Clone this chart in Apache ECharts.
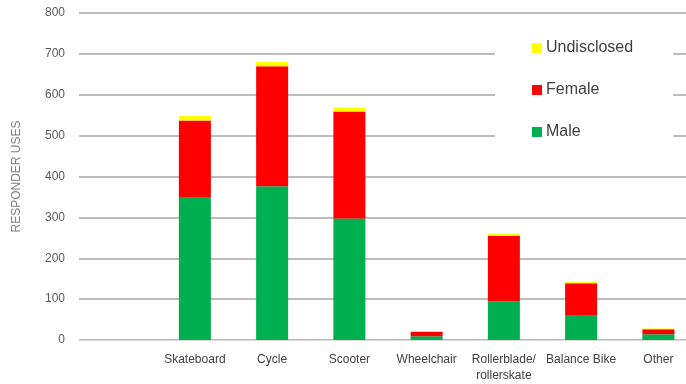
<!DOCTYPE html>
<html>
<head>
<meta charset="utf-8">
<script src="https://cdn.jsdelivr.net/npm/echarts@6/dist/echarts.min.js"></script>
<style>
html,body{margin:0;padding:0;background:#fff;overflow:hidden;width:686px;height:384px;}
#c{width:697px;height:384px;}
</style>
</head>
<body>
<div id="c"></div>
<script>
var categories = ['', 'Skateboard', 'Cycle', 'Scooter', 'Wheelchair', 'Rollerblade/\nrollerskate', 'Balance Bike', 'Other'];
var male = [null, 350, 376, 297, 9, 94, 61, 14];
var female = [null, 187, 294, 262, 11, 161, 78, 12];
var undisclosed = [null, 11, 10, 10, 1, 5, 3, 2];
var yTicks = [0, 800, 100];

var chart = echarts.init(document.getElementById('c'));
var font = '"Liberation Sans", Arial, sans-serif';
chart.setOption({
  animation: false,
  backgroundColor: '#ffffff',
  textStyle: { fontFamily: font },
  grid: { left: 79, top: 13, right: 0, bottom: 44, containLabel: false },
  legend: {
    data: ['Undisclosed', 'Female', 'Male'],
    orient: 'vertical',
    left: 495,
    top: 21,
    padding: [19, 40, 31, 37],
    itemGap: 26,
    itemWidth: 10,
    itemHeight: 10,
    itemStyle: { borderWidth: 0 },
    icon: 'rect',
    backgroundColor: '#ffffff',
    textStyle: { fontFamily: font, fontSize: 16, color: '#404040', padding: [0, 0, 0, -1] }
  },
  xAxis: {
    type: 'category',
    data: categories,
    axisLine: { lineStyle: { color: '#d9d9d9', width: 1 } },
    axisTick: { show: false },
    axisLabel: { interval: 0, margin: 12, fontSize: 12, color: '#404040', lineHeight: 16, fontFamily: font }
  },
  yAxis: {
    type: 'value',
    min: yTicks[0],
    max: yTicks[1],
    interval: yTicks[2],
    name: 'RESPONDER USES',
    nameLocation: 'middle',
    nameGap: 56,
    nameTextStyle: { fontSize: 12, color: '#7f7f7f', fontFamily: font },
    axisLine: { show: false },
    axisTick: { show: false },
    axisLabel: { margin: 14, fontSize: 12, color: '#595959', fontFamily: font },
    splitLine: { lineStyle: { color: '#a6a6a6', width: 1.5 } }
  },
  series: [
    { name: 'Male', type: 'bar', stack: 's', data: male, barWidth: 32, itemStyle: { color: '#00b050' } },
    { name: 'Female', type: 'bar', stack: 's', data: female, barWidth: 32, itemStyle: { color: '#ff0000' } },
    { name: 'Undisclosed', type: 'bar', stack: 's', data: undisclosed, barWidth: 32, itemStyle: { color: '#ffff00' } }
  ]
});
</script>
</body>
</html>
